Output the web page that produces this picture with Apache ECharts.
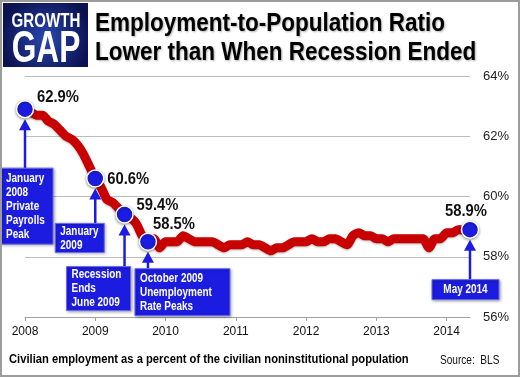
<!DOCTYPE html>
<html>
<head>
<meta charset="utf-8">
<script src="https://cdn.jsdelivr.net/npm/echarts@6/dist/echarts.min.js"></script>
<style>
html, body { margin: 0; padding: 0; background: #fff; }
#chart { width: 520px; height: 377px; }
</style>
</head>
<body>
<div id="chart"></div>
<script>
// Monthly employment-to-population ratio (%), Jan 2008 .. May 2014
const startYear = 2008;
const epop2008 = [62.9, 62.8, 62.7, 62.7, 62.5, 62.4, 62.2, 62.0, 61.9, 61.7, 61.4, 61.0];
const epop2009 = [60.6, 60.3, 59.9, 59.8, 59.6, 59.4, 59.3, 59.1, 58.7, 58.5, 58.6, 58.3];
const epop2010 = [58.5, 58.5, 58.5, 58.7, 58.6, 58.5, 58.5, 58.5, 58.5, 58.4, 58.3, 58.4];
const epop2011 = [58.4, 58.4, 58.5, 58.4, 58.4, 58.3, 58.2, 58.3, 58.3, 58.4, 58.5, 58.5];
const epop2012 = [58.5, 58.6, 58.5, 58.5, 58.6, 58.6, 58.5, 58.4, 58.7, 58.8, 58.7, 58.7];
const epop2013 = [58.6, 58.6, 58.5, 58.6, 58.6, 58.6, 58.6, 58.6, 58.6, 58.3, 58.6, 58.6];
const epop2014 = [58.8, 58.8, 58.9, 58.9, 58.9];
const epop = [].concat(epop2008, epop2009, epop2010, epop2011, epop2012, epop2013, epop2014);

const yearTicks = [2008, 2009, 2010, 2011, 2012, 2013, 2014];
const pctTicks = [56, 58, 60, 62, 64];

// highlighted months (index into epop) and their callouts
const keyIdx = [0, 12, 17, 21, 76];
const calloutTexts = [
    'January\n2008\nPrivate\nPayrolls\nPeak',
    'January\n2009',
    'Recession\nEnds\nJune 2009',
    'October 2009\nUnemployment\nRate Peaks',
    'May 2014'
];

// callout placement in pixels, relative to the highlighted point
const calloutLayout = [
    { dx: -24, dy: 59, w: 52, h: 76, lx: 12, ly: -12, la: 'left', ta: 'left' },
    { dx: -40, dy: 45, w: 49, h: 29, lx: 12, ly: 1, la: 'left', ta: 'left' },
    { dx: -58, dy: 52, w: 64, h: 44, lx: 12, ly: -9, la: 'left', ta: 'left' },
    { dx: -13, dy: 27, w: 95, h: 47, lx: 5, ly: -17, la: 'left', ta: 'left' },
    { dx: -38, dy: 50, w: 67, h: 20, lx: -4, ly: -18, la: 'center', ta: 'center' }
];

const BLUE = '#1c1ce0';
const RED = '#c80000';

const toX = i => startYear + i / 12;
const lineData = epop.map((v, i) => [toX(i), v]);
const keyData = keyIdx.map(i => [toX(i), epop[i]]);

function renderCallout(params, api) {
    const i = params.dataIndex;
    const L = calloutLayout[i];
    const p = api.coord([api.value(0), api.value(1)]);
    const boxLeft = p[0] + L.dx;
    const boxTop = p[1] + L.dy;
    const tipY = p[1] + 10;
    const textX = L.ta === 'center' ? boxLeft + L.w / 2 : boxLeft + 5;
    return {
        type: 'group',
        children: [
            {
                type: 'line',
                shape: { x1: p[0], y1: tipY + 9, x2: p[0], y2: boxTop },
                style: { stroke: BLUE, lineWidth: 2.5 }
            },
            {
                type: 'polygon',
                shape: { points: [[p[0], tipY], [p[0] - 6, tipY + 11], [p[0] + 6, tipY + 11]] },
                style: { fill: BLUE }
            },
            {
                type: 'rect',
                shape: { x: boxLeft, y: boxTop, width: L.w, height: L.h },
                style: {
                    fill: BLUE, stroke: '#6a6af2', lineWidth: 1,
                    shadowBlur: 3, shadowColor: 'rgba(0,0,0,0.35)', shadowOffsetX: 1, shadowOffsetY: 1
                }
            },
            {
                type: 'text',
                x: textX, y: boxTop + L.h / 2 + 0.5, scaleX: 0.83,
                style: {
                    text: calloutTexts[i], fill: '#fff', align: L.ta, verticalAlign: 'middle',
                    font: 'bold 12px "Liberation Sans", Arial, sans-serif', lineHeight: 14
                }
            },
            {
                type: 'text',
                x: p[0] + L.lx, y: p[1] + L.ly, scaleX: 0.87,
                style: {
                    text: epop[keyIdx[i]].toFixed(1) + '%', fill: '#111', align: L.la, verticalAlign: 'middle',
                    font: 'bold 17px "Liberation Sans", Arial, sans-serif'
                }
            }
        ]
    };
}

const chart = echarts.init(document.getElementById('chart'));

const option = {
    backgroundColor: '#fff',
    animation: false,
    grid: { left: 25, right: 50, top: 76, bottom: 60 },
    xAxis: {
        type: 'value',
        min: startYear,
        max: startYear + 76 / 12,
        interval: 1,
        axisLine: { lineStyle: { color: '#a0a0a0', width: 1 } },
        axisTick: { show: true, length: 4, lineStyle: { color: '#a0a0a0' } },
        splitLine: { show: false },
        axisLabel: {
            color: '#111', fontSize: 12, fontFamily: '"Liberation Sans", Arial, sans-serif', margin: 9,
            showMaxLabel: false,
            formatter: v => (yearTicks.indexOf(v) >= 0 ? String(v) : '')
        }
    },
    yAxis: {
        type: 'value',
        position: 'right',
        min: pctTicks[0],
        max: pctTicks[pctTicks.length - 1],
        interval: 2,
        axisLine: { show: false },
        axisTick: { show: false },
        splitLine: { lineStyle: { color: '#bdbdbd', width: 1 } },
        axisLabel: {
            color: '#222', fontSize: 13, fontFamily: '"Liberation Sans", Arial, sans-serif', margin: 13,
            formatter: '{value}%'
        }
    },
    graphic: [
        // frame
        { type: 'rect', shape: { x: 1, y: 1, width: 518, height: 375 }, style: { fill: 'none', stroke: '#9c9c9c', lineWidth: 2 }, z: 100 },
        // logo
        {
            type: 'rect', shape: { x: 3, y: 3, width: 85, height: 64 },
            style: {
                fill: new echarts.graphic.RadialGradient(0.5, 0.55, 0.7, [
                    { offset: 0, color: '#2a48b0' }, { offset: 1, color: '#0b1250' }
                ])
            }
        },
        {
            type: 'text', x: 46, y: 21, scaleX: 0.72,
            style: { text: 'GROWTH', fill: '#fff', align: 'center', verticalAlign: 'middle', font: 'bold 21px "Liberation Sans", Arial, sans-serif' }
        },
        {
            type: 'text', x: 46, y: 50, scaleX: 0.72,
            style: { text: 'GAP', fill: '#fff', align: 'center', verticalAlign: 'middle', font: 'bold 44px "Liberation Sans", Arial, sans-serif' }
        },
        // title
        {
            type: 'text', x: 95, y: 24, scaleX: 0.9,
            style: {
                text: 'Employment-to-Population Ratio', fill: '#000', verticalAlign: 'middle',
                font: 'bold 25px "Liberation Sans", Arial, sans-serif',
                textShadowColor: 'rgba(0,0,0,0.3)', textShadowBlur: 2, textShadowOffsetX: 1, textShadowOffsetY: 1
            }
        },
        {
            type: 'text', x: 95, y: 53, scaleX: 0.9,
            style: {
                text: 'Lower than When Recession Ended', fill: '#000', verticalAlign: 'middle',
                font: 'bold 25px "Liberation Sans", Arial, sans-serif',
                textShadowColor: 'rgba(0,0,0,0.3)', textShadowBlur: 2, textShadowOffsetX: 1, textShadowOffsetY: 1
            }
        },
        // footer
        {
            type: 'text', x: 9, y: 359, scaleX: 0.83,
            style: { text: 'Civilian employment as a percent of the civilian noninstitutional population', fill: '#000', verticalAlign: 'middle', font: 'bold 13.5px "Liberation Sans", Arial, sans-serif' }
        },
        {
            type: 'text', x: 440, y: 361, scaleX: 0.84,
            style: { text: 'Source:  BLS', fill: '#111', verticalAlign: 'middle', font: '12px "Liberation Sans", Arial, sans-serif' }
        }
    ],
    series: [
        {
            name: 'Employment-to-Population Ratio',
            type: 'line',
            data: lineData,
            smooth: 0.2,
            showSymbol: false,
            z: 2,
            lineStyle: { color: RED, width: 9, shadowBlur: 2, shadowColor: 'rgba(0,0,0,0.3)', shadowOffsetY: 1 }
        },
        {
            type: 'custom',
            data: keyData,
            z: 3,
            renderItem: renderCallout
        },
        {
            type: 'scatter',
            data: keyData,
            z: 4,
            symbolSize: 17,
            itemStyle: {
                color: BLUE, opacity: 1, borderColor: '#fff', borderWidth: 1.5,
                shadowBlur: 3, shadowColor: 'rgba(0,0,0,0.4)', shadowOffsetY: 1
            }
        }
    ]
};

chart.setOption(option);
</script>
</body>
</html>
